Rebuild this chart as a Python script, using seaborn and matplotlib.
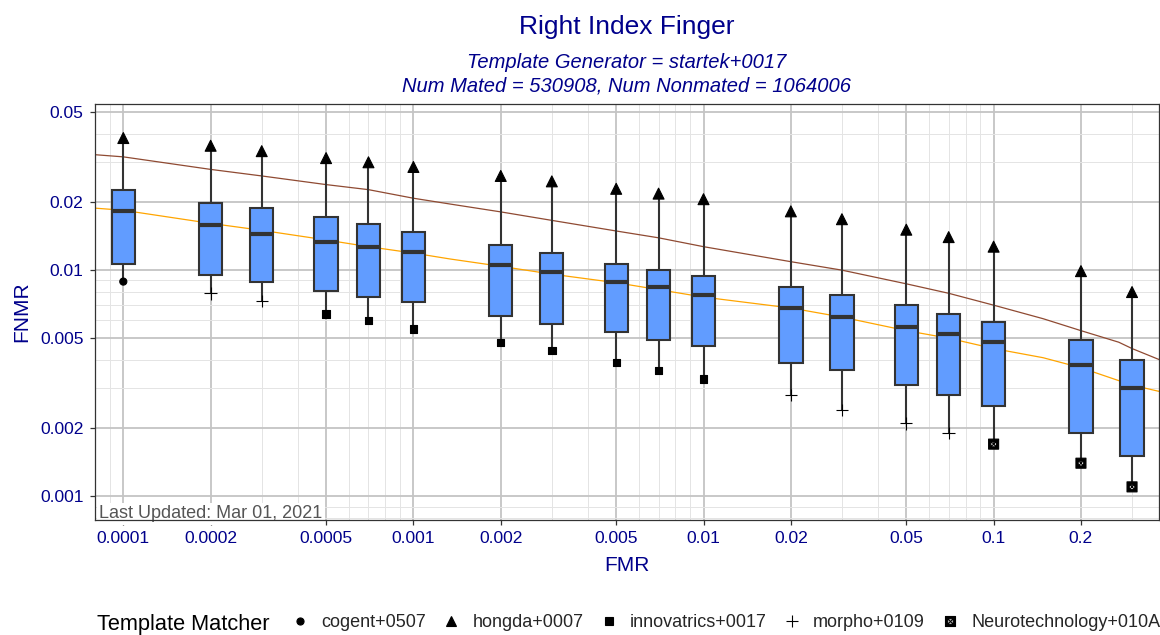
import matplotlib
matplotlib.use("Agg")
import matplotlib.pyplot as plt
from matplotlib.path import Path
from matplotlib.ticker import LogLocator, FuncFormatter, NullFormatter
import pandas as pd
import seaborn as sns

# FMR thresholds (one box per threshold)
fmr = [0.0001, 0.0002, 0.0003, 0.0005, 0.0007, 0.001, 0.002, 0.003, 0.005,
       0.007, 0.01, 0.02, 0.03, 0.05, 0.07, 0.1, 0.2, 0.3]

# FNMR summary per threshold
fnmr_max = [0.0384, 0.0355, 0.0336, 0.0313, 0.0300, 0.0286, 0.0261, 0.0247, 0.0229,
            0.0218, 0.0206, 0.0182, 0.0168, 0.0151, 0.0140, 0.0127, 0.0099, 0.0080]
fnmr_q3 = [0.0226, 0.0199, 0.0188, 0.0171, 0.0160, 0.0148, 0.0129, 0.0119, 0.0107,
           0.0100, 0.0094, 0.0084, 0.0078, 0.0070, 0.0064, 0.0059, 0.0049, 0.0040]
fnmr_med = [0.0182, 0.0159, 0.0145, 0.0133, 0.0126, 0.0120, 0.0105, 0.0098, 0.0089,
            0.0084, 0.0078, 0.0068, 0.0062, 0.0056, 0.0052, 0.0048, 0.0038, 0.0030]
fnmr_q1 = [0.0107, 0.0095, 0.0089, 0.0081, 0.0076, 0.0072, 0.0063, 0.0058, 0.0053,
           0.0049, 0.0046, 0.0039, 0.0036, 0.0031, 0.0028, 0.0025, 0.0019, 0.0015]
fnmr_min = [0.0089, 0.0079, 0.0073, 0.0064, 0.0060, 0.0055, 0.0048, 0.0044, 0.0039,
            0.0036, 0.0033, 0.0028, 0.0024, 0.0021, 0.0019, 0.0017, 0.0014, 0.0011]

matchers = ["cogent+0507", "hongda+0007", "innovatrics+0017", "morpho+0109",
            "Neurotechnology+010A"]
best_matcher = (["cogent+0507"] + ["morpho+0109"] * 2 + ["innovatrics+0017"] * 8
                + ["morpho+0109"] * 4 + ["Neurotechnology+010A"] * 3)
worst_matcher = ["hongda+0007"] * len(fmr)

# DET curves
brown_fmr = [8e-5, 1e-4, 2e-4, 3e-4, 5e-4, 7e-4, 1e-3, 1.34e-3, 2e-3, 3e-3, 5e-3, 7e-3,
             1e-2, 2e-2, 3e-2, 5e-2, 7e-2, 0.1, 0.148, 0.2, 0.27, 0.3, 0.376]
brown_fnmr = [0.0324, 0.0317, 0.0279, 0.0261, 0.0239, 0.0227, 0.0208, 0.0196, 0.0181,
              0.0166, 0.0149, 0.0139, 0.0127, 0.0109, 0.0100, 0.0087, 0.0079, 0.0070,
              0.0061, 0.0054, 0.0048, 0.0045, 0.0040]
orange_fmr = [8e-5, 1e-4, 2e-4, 3e-4, 5e-4, 7e-4, 1e-3, 1.34e-3, 2e-3, 3e-3, 5e-3, 7e-3,
              1e-2, 2e-2, 3e-2, 5e-2, 7e-2, 0.1, 0.148, 0.2, 0.3, 0.376]
orange_fnmr = [0.0188, 0.0184, 0.0161, 0.0150, 0.0136, 0.0127, 0.0119, 0.0112, 0.0104,
               0.0096, 0.0088, 0.0082, 0.0076, 0.0068, 0.0062, 0.0054, 0.0050, 0.0045,
               0.0041, 0.0037, 0.0031, 0.0029]

# five values per box -> quartiles land exactly on them
rows = []
for i, f in enumerate(fmr):
    for v in (fnmr_min[i], fnmr_q1[i], fnmr_med[i], fnmr_q3[i], fnmr_max[i]):
        rows.append((f, v))
box_df = pd.DataFrame(rows, columns=["FMR", "FNMR"])

pts = pd.DataFrame({
    "FMR": fmr + fmr,
    "FNMR": fnmr_min + fnmr_max,
    "matcher": best_matcher + worst_matcher,
})

# custom markers (all "filled" paths so seaborn lets them mix)
plus = Path([(-1, 0), (1, 0), (0, -1), (0, 1)],
            [Path.MOVETO, Path.LINETO, Path.MOVETO, Path.LINETO])
sq_out = [(-1, -1), (1, -1), (1, 1), (-1, 1), (-1, -1)]
sq_in = [(-0.55, -0.55), (-0.55, 0.55), (0.55, 0.55), (0.55, -0.55), (-0.55, -0.55)]
cross = [(-0.55, -0.55), (0.55, 0.55), (-0.55, 0.55), (0.55, -0.55)]
ring = [Path.MOVETO, Path.LINETO, Path.LINETO, Path.LINETO, Path.CLOSEPOLY]
sq_cross = Path(sq_out + sq_in + cross,
                ring + ring + [Path.MOVETO, Path.LINETO, Path.MOVETO, Path.LINETO])

marker_map = {"cogent+0507": "o", "hongda+0007": "^", "innovatrics+0017": "s",
              "morpho+0109": plus, "Neurotechnology+010A": sq_cross}
size_map = {"cogent+0507": 26, "hongda+0007": 62, "innovatrics+0017": 28,
            "morpho+0109": 80, "Neurotechnology+010A": 52}

sns.set_theme(style="white")
plt.rcParams["font.family"] = ["Liberation Sans", "DejaVu Sans"]
navy = "#00008B"
dark = "#333333"

fig = plt.figure(figsize=(11.6, 6.35), dpi=100)
ax = fig.add_axes([0.0822, 0.1811, 0.9172, 0.6551])

sns.lineplot(x=brown_fmr, y=brown_fnmr, color="#8f4a32", linewidth=0.9,
             legend=False, ax=ax, zorder=1.5)
sns.lineplot(x=orange_fmr, y=orange_fnmr, color="orange", linewidth=0.9,
             legend=False, ax=ax, zorder=1.5)

sns.boxplot(data=box_df, x="FMR", y="FNMR", native_scale=True, log_scale=(True, True),
            whis=(0, 100), width=0.55, color="#619CFF", saturation=1,
            linecolor=dark, linewidth=1.5, showcaps=False, showfliers=False,
            medianprops={"linewidth": 3.0}, ax=ax)

sns.scatterplot(data=pts, x="FMR", y="FNMR", style="matcher", size="matcher",
                markers=marker_map, sizes=size_map, style_order=matchers,
                size_order=matchers, color="black", edgecolor="black",
                linewidth=0.8, ax=ax, zorder=5)

ax.set_xscale("log")
ax.set_yscale("log")
ax.set_xlim(8.01e-5, 0.3725)
ax.set_ylim(0.000785, 0.0543)

fmt = FuncFormatter(lambda v, p: f"{v:g}")
for axis in (ax.xaxis, ax.yaxis):
    axis.set_major_locator(LogLocator(base=10, subs=(1, 2, 5), numticks=20))
    axis.set_minor_locator(LogLocator(base=10, subs=(3, 4, 6, 7, 8, 9), numticks=20))
    axis.set_major_formatter(fmt)
    axis.set_minor_formatter(NullFormatter())

ax.set_axisbelow(True)
ax.grid(True, which="major", color="#c4c4c4", linewidth=1.3)
ax.grid(True, which="minor", color="#e4e4e4", linewidth=0.7)
for s in ax.spines.values():
    s.set_color(dark)
    s.set_linewidth(0.9)
ax.tick_params(which="major", length=3.6, width=0.9, color=dark,
               labelcolor=navy, labelsize=12.6, bottom=True, left=True)
ax.tick_params(axis="x", which="major", pad=4)
ax.tick_params(axis="y", which="major", pad=5)
ax.tick_params(which="minor", length=0)
ax.set_xlabel("")
ax.set_ylabel("")

ax.text(0.0038, 0.004, "Last Updated: Mar 01, 2021", transform=ax.transAxes,
        ha="left", va="baseline", fontsize=13, color="#555555", zorder=2.2,
        bbox=dict(facecolor="white", edgecolor="none", boxstyle="square,pad=0.15"))

fig.text(0.5405, 0.946, "Right Index Finger", ha="center", va="baseline",
         fontsize=19, color=navy)
fig.text(0.5405, 0.8924, "Template Generator = startek+0017", ha="center",
         va="baseline", fontsize=14.5, style="italic", color=navy)
fig.text(0.5405, 0.8556, "Num Mated = 530908, Num Nonmated = 1064006", ha="center",
         va="baseline", fontsize=14.5, style="italic", color=navy)
fig.text(0.5405, 0.1008, "FMR", ha="center", va="baseline", fontsize=15, color=navy)
fig.text(0.0191, 0.5087, "FNMR", ha="center", va="center", rotation=90,
         fontsize=15, color=navy)

fig.text(0.0834, 0.0079, "Template Matcher", ha="left", va="baseline",
         fontsize=15.7, color="black")
sns.move_legend(ax, "center left", bbox_to_anchor=(0.2509, 0.0189),
                bbox_transform=fig.transFigure, ncol=5, title="", frameon=False,
                fontsize=13, handlelength=1.0, handletextpad=0.67,
                columnspacing=0.9, borderpad=0, borderaxespad=0)

fig.savefig("out.png", dpi=100)
